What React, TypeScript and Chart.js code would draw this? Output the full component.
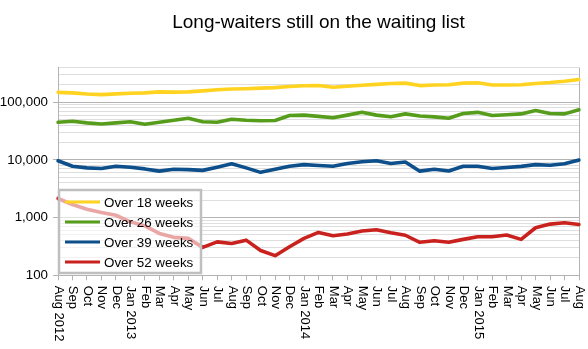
import React, { useEffect, useRef } from 'react';
import { Chart, registerables } from 'chart.js';

Chart.register(...registerables);

const chartTitle = 'Long-waiters still on the waiting list';

const months = [
  'Aug 2012', 'Sep', 'Oct', 'Nov', 'Dec', 'Jan 2013', 'Feb', 'Mar', 'Apr', 'May', 'Jun', 'Jul',
  'Aug', 'Sep', 'Oct', 'Nov', 'Dec', 'Jan 2014', 'Feb', 'Mar', 'Apr', 'May', 'Jun', 'Jul',
  'Aug', 'Sep', 'Oct', 'Nov', 'Dec', 'Jan 2015', 'Feb', 'Mar', 'Apr', 'May', 'Jun', 'Jul', 'Aug',
];

const over18 = [
  149000, 146000, 139000, 136000, 140000, 144000, 146000, 152000, 150000, 152000, 158000, 165000,
  170000, 172000, 176000, 180000, 188000, 194000, 196000, 183000, 190000, 198000, 205000, 212000,
  215000, 195000, 200000, 202000, 215000, 218000, 200000, 200000, 202000, 212000, 220000, 232000, 248000,
];

const over26 = [
  45000, 47000, 44000, 42000, 44000, 46000, 41500, 45000, 49000, 53000, 46000, 45000,
  51000, 49000, 48000, 48500, 59000, 60000, 57000, 54000, 60000, 67000, 60000, 56000,
  63000, 58000, 56000, 53000, 64000, 67000, 59000, 61000, 63000, 72000, 64000, 63000, 74000,
];

const over39 = [
  9700, 7800, 7300, 7100, 7800, 7500, 7000, 6400, 6900, 6800, 6600, 7500,
  8600, 7300, 6100, 6900, 7800, 8300, 8000, 7800, 8700, 9300, 9700, 8700,
  9200, 6400, 6900, 6450, 7800, 7800, 7100, 7400, 7750, 8300, 8100, 8600, 10000,
];

const over52 = [
  2150, 1690, 1400, 1230, 1100, 845, 720, 533, 455, 437, 305, 380,
  355, 407, 269, 219, 313, 437, 555, 486, 519, 585, 617, 546,
  495, 373, 398, 373, 420, 466, 466, 499, 420, 668, 773, 813, 762,
];

const seriesNames = ['Over 18 weeks', 'Over 26 weeks', 'Over 39 weeks', 'Over 52 weeks'];
const seriesColors = ['#ffd320', '#579d1c', '#0d4f8b', '#c9211e'];

const yMin = 100;
const yMax = 400000;
const yMajorTicks = [100, 1000, 10000, 100000];
const yMajorLabels = ['100', '1,000', '10,000', '100,000'];
const yMinorSteps = [1, 2, 3, 4, 5, 6, 7, 8, 9];

const FONT = '"Liberation Sans", Arial, Helvetica, sans-serif';
const MAJOR_GRID = '#b3b3b3';
const MINOR_GRID = '#dedede';

const overlayPlugin = {
  id: 'overlay',
  afterDatasetsDraw(chart: any) {
    const ctx = chart.ctx;
    const left = 59;
    const top = 190;
    const w = 142;
    const h = 83;
    ctx.save();
    ctx.fillStyle = 'rgba(255,255,255,0.6)';
    ctx.fillRect(left, top, w, h);
    ctx.strokeStyle = '#bfbfbf';
    ctx.lineWidth = 2.5;
    ctx.strokeRect(left, top, w, h);
    ctx.font = `13.4px ${FONT}`;
    ctx.textBaseline = 'middle';
    ctx.textAlign = 'left';
    chart.data.datasets.forEach((ds: any, i: number) => {
      const y = top + 12 + i * 20;
      ctx.strokeStyle = ds.borderColor;
      ctx.lineWidth = 3;
      ctx.beginPath();
      ctx.moveTo(65, y);
      ctx.lineTo(100, y);
      ctx.stroke();
      ctx.fillStyle = '#000';
      ctx.fillText(ds.label, 104, y + 1);
    });
    ctx.restore();
  },
  afterDraw(chart: any) {
    const ctx = chart.ctx;
    const area = chart.chartArea;
    const xScale = chart.scales.x;
    ctx.save();
    ctx.fillStyle = '#000';
    ctx.font = `19px ${FONT}`;
    ctx.textAlign = 'center';
    ctx.textBaseline = 'alphabetic';
    ctx.fillText(chartTitle, (area.left + area.right) / 2, 28.3);

    ctx.font = `13px ${FONT}`;
    ctx.textAlign = 'left';
    ctx.textBaseline = 'middle';
    (chart.data.labels as string[]).forEach((lab, i) => {
      const x = xScale.getPixelForValue(i);
      ctx.save();
      ctx.translate(x + 0.5, area.bottom + 10.5);
      ctx.rotate(Math.PI / 2);
      ctx.fillText(lab, 0, 0);
      ctx.restore();
    });
    ctx.restore();
  },
};

export default function App() {
  const ref = useRef<HTMLCanvasElement | null>(null);

  useEffect(() => {
    if (!ref.current) return;
    const yTicks: number[] = [];
    yMajorTicks.forEach((base) => {
      yMinorSteps.forEach((m) => {
        const v = base * m;
        if (v <= yMax) yTicks.push(v);
      });
    });
    const datasets = [over18, over26, over39, over52].map((data, i) => ({
      label: seriesNames[i],
      data,
      borderColor: seriesColors[i],
      backgroundColor: seriesColors[i],
      borderWidth: 3.6,
      pointRadius: 0,
      pointHoverRadius: 0,
      tension: 0,
      borderJoinStyle: 'round',
      borderCapStyle: 'round',
      fill: false,
    }));
    const chart = new Chart(ref.current, {
      type: 'line',
      data: { labels: months, datasets },
      options: {
        responsive: false,
        animation: false,
        devicePixelRatio: 1,
        layout: { padding: { top: 67.6, right: 9, left: 0, bottom: 0 } },
        plugins: {
          legend: { display: false },
          title: { display: false },
          tooltip: { enabled: false },
        },
        scales: {
          x: {
            type: 'category',
            offset: false,
            ticks: { display: false },
            grid: {
              color: (c: any) => (c.index === months.length - 1 ? MAJOR_GRID : 'rgba(0,0,0,0)'),
              tickColor: MAJOR_GRID,
              tickLength: 5,
              drawTicks: true,
              lineWidth: 1,
            },
            border: { display: true, color: MAJOR_GRID, width: 1 },
            afterFit: (s: any) => {
              s.height = 73.7;
            },
          },
          y: {
            type: 'logarithmic',
            min: yMin,
            max: yMax,
            afterBuildTicks: (s: any) => {
              s.ticks = yTicks.map((v) => ({ value: v, major: yMajorTicks.includes(v) }));
            },
            afterFit: (s: any) => {
              s.width = 58;
            },
            ticks: {
              autoSkip: false,
              padding: 5,
              color: '#000',
              font: { family: FONT, size: 13.33 },
              callback: (value: any) => {
                const idx = yMajorTicks.indexOf(Number(value));
                return idx >= 0 ? yMajorLabels[idx] : '';
              },
            },
            grid: {
              color: (c: any) =>
                c.tick && yMajorTicks.includes(c.tick.value) ? MAJOR_GRID : MINOR_GRID,
              tickColor: (c: any) =>
                c.tick && yMajorTicks.includes(c.tick.value) ? MAJOR_GRID : 'rgba(0,0,0,0)',
              tickLength: 5,
              lineWidth: 1,
            },
            border: { display: true, color: MAJOR_GRID, width: 1 },
          },
        },
      },
      plugins: [overlayPlugin],
    } as any);
    return () => chart.destroy();
  }, []);

  return (
    <div style={{ position: 'absolute', left: 0, top: 0, width: 588, height: 349, background: '#fff' }}>
      <canvas ref={ref} width={588} height={349} />
    </div>
  );
}
